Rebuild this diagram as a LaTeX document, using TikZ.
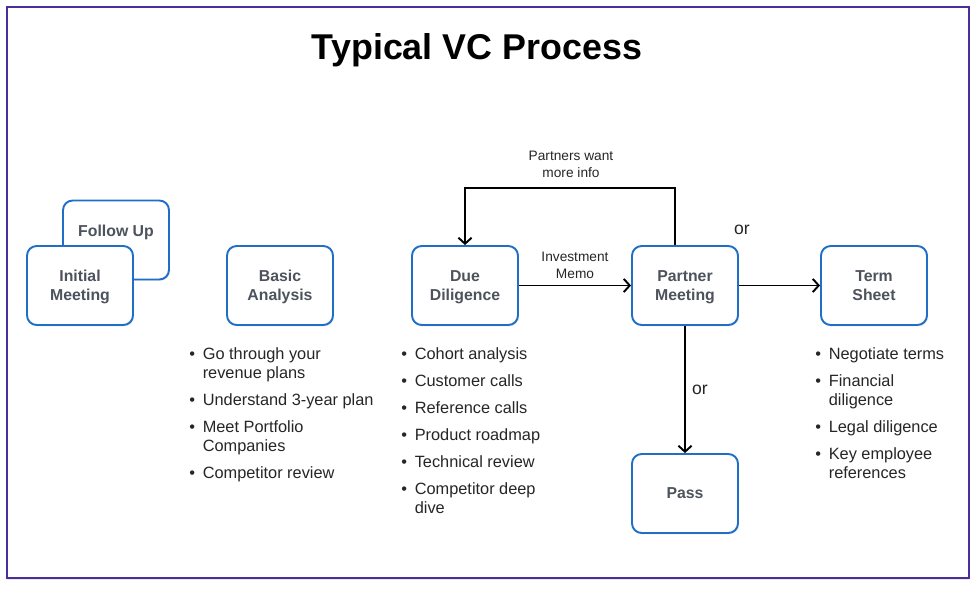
\documentclass[tikz,border=0pt]{standalone}
\usepackage{fontspec}
\setmainfont{Liberation Sans}
\usetikzlibrary{arrows.meta,shadows}
\definecolor{framepurple}{HTML}{4B2E9C}
\definecolor{boxblue}{HTML}{1F6FC8}
\definecolor{boxtext}{HTML}{4D535C}
\definecolor{listtext}{HTML}{262626}

\begin{document}
\begin{tikzpicture}[x=0.02cm,y=-0.02cm,
	stepbox/.style={draw=boxblue,line width=1.1pt,rounded corners=5.5pt,fill=white,
		drop shadow={opacity=0.18,shadow xshift=0.6pt,shadow yshift=-0.8pt},
		minimum width=2.12cm,minimum height=1.58cm,align=center,text=boxtext,text depth=0pt,
		font=\fontsize{9}{10.8}\selectfont\bfseries},
	flow/.style={line width=1.1pt,-{Straight Barb[length=3.4pt,width=7.5pt]}},
	note/.style={align=center,inner sep=0,font=\fontsize{7.8}{9.6}\selectfont,text=listtext},
	ortext/.style={inner sep=0,font=\fontsize{10}{12}\selectfont,text=listtext},
	bullets/.style={anchor=base west,inner sep=0,text=listtext,font=\fontsize{9.3}{10.8}\selectfont}]
	\useasboundingbox (0,0) rectangle (980,590);
	\draw[framepurple,line width=1.5pt,fill=white,drop shadow={opacity=0.2,shadow xshift=0pt,shadow yshift=-1.2pt}] (7,7) rectangle (969,578);
	\node[inner sep=0,font=\fontsize{20.4}{24}\selectfont\bfseries] (title) at (477,50) {Typical VC Process};
	\node[stepbox] (followup) at (116,240) {Follow Up\\\phantom{X}};
	\node[stepbox] (initial) at (80,285.5) {Initial\\Meeting};
	\node[stepbox] (basic) at (280,285.5) {Basic\\Analysis};
	\node[stepbox] (dd) at (465,285.5) {Due\\Diligence};
	\node[stepbox] (pm) at (685,285.5) {Partner\\Meeting};
	\node[stepbox] (ts) at (874,285.5) {Term\\Sheet};
	\node[stepbox] (pass) at (685,493.5) {Pass};
	\draw[flow] (dd) -- (pm);
	\node[note] (memo) at (575,265.5) {Investment\\Memo};
	\draw[flow] ([xshift=-0.2cm]pm.north) -- ++(0,-57) -| (dd.north);
	\node[note] (moreinfo) at (571,164.5) {Partners want\\more info};
	\draw[flow] (pm) -- (ts);
	\draw[flow] (pm) -- (pass);
	\node[ortext] (or1) at (742,230) {or};
	\node[ortext] (or2) at (700,390) {or};
	\node[bullets] (basiclist) at (189,360) {\begin{tabular}[t]{@{}l@{\hspace{4.4pt}}l@{}}
		\textbullet & Go through your\\ & revenue plans\\[4.5pt]
		\textbullet & Understand 3-year plan\\[4.5pt]
		\textbullet & Meet Portfolio\\ & Companies\\[4.5pt]
		\textbullet & Competitor review\end{tabular}};
	\node[bullets] (ddlist) at (401,360) {\begin{tabular}[t]{@{}l@{\hspace{4.4pt}}l@{}}
		\textbullet & Cohort analysis\\[4.5pt]
		\textbullet & Customer calls\\[4.5pt]
		\textbullet & Reference calls\\[4.5pt]
		\textbullet & Product roadmap\\[4.5pt]
		\textbullet & Technical review\\[4.5pt]
		\textbullet & Competitor deep\\ & dive\end{tabular}};
	\node[bullets] (tslist) at (815,360) {\begin{tabular}[t]{@{}l@{\hspace{4.4pt}}l@{}}
		\textbullet & Negotiate terms\\[4.5pt]
		\textbullet & Financial\\ & diligence\\[4.5pt]
		\textbullet & Legal diligence\\[4.5pt]
		\textbullet & Key employee\\ & references\end{tabular}};
\end{tikzpicture}
\end{document}
